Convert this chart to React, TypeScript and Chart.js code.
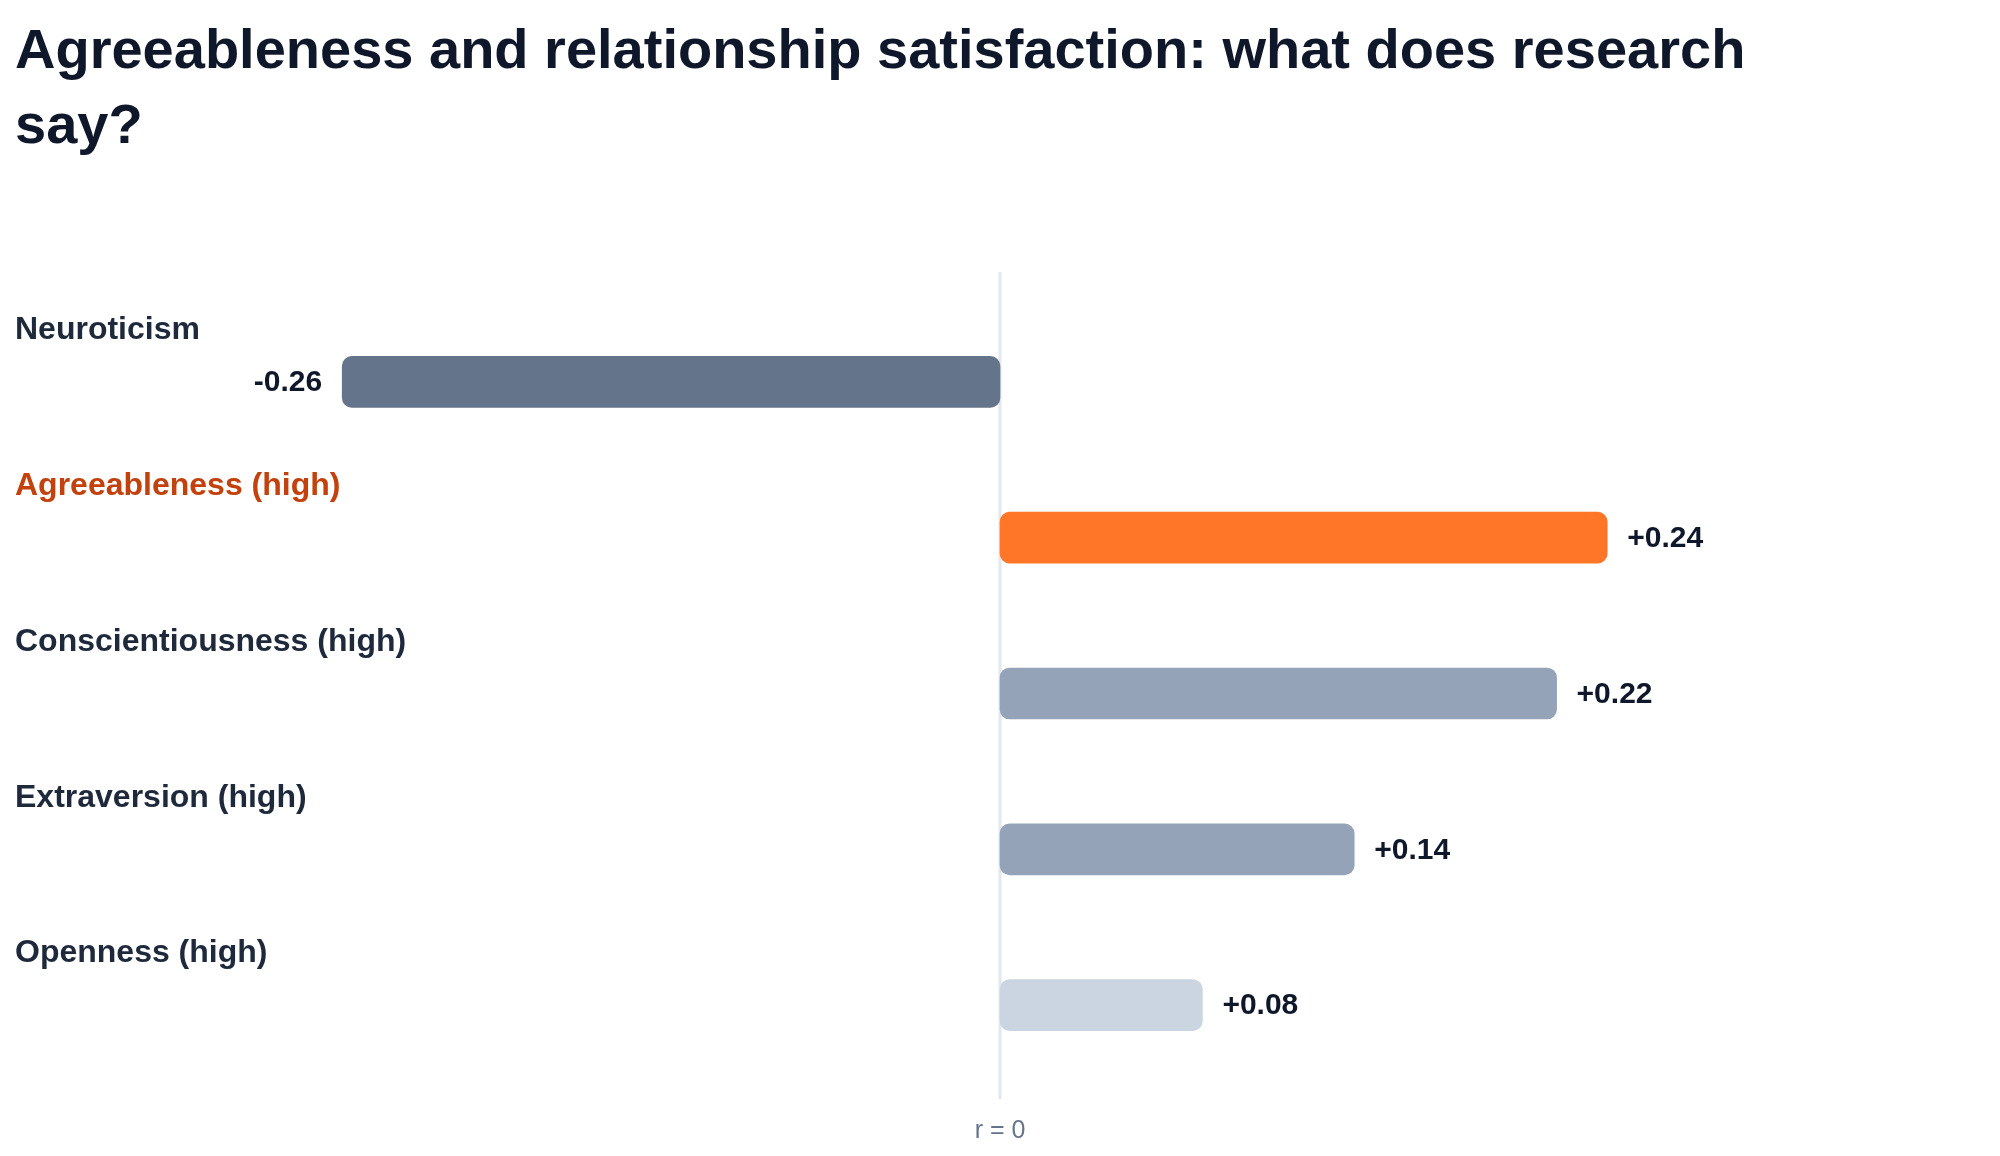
import React, { useEffect, useRef } from "react";
import { Chart, registerables } from "chart.js";

Chart.register(...registerables);

const TITLE = "Agreeableness and relationship satisfaction: what does research say?";
const categories = [
  "Neuroticism",
  "Agreeableness (high)",
  "Conscientiousness (high)",
  "Extraversion (high)",
  "Openness (high)",
];
const values = [-0.26, 0.24, 0.22, 0.14, 0.08];
const barColors = ["#64748b", "#ff7629", "#94a3b8", "#94a3b8", "#cbd5e1"];
const labelColors = ["#1e293b", "#c2410c", "#1e293b", "#1e293b", "#1e293b"];
const zeroLabel = "r = 0";

const FONT = '"Liberation Sans", Arial, Helvetica, sans-serif';
const W = 1984;
const H = 1140;

const annotatePlugin = {
  id: "annotate",
  beforeDatasetsDraw(chart: any) {
    const ctx = chart.ctx;
    const x0 = chart.scales.x.getPixelForValue(0);
    ctx.save();
    ctx.strokeStyle = "#e2e8f0";
    ctx.lineWidth = 3;
    ctx.beginPath();
    ctx.moveTo(x0, 264);
    ctx.lineTo(x0, 1091);
    ctx.stroke();
    ctx.fillStyle = "#64748b";
    ctx.font = `25px ${FONT}`;
    ctx.textAlign = "center";
    ctx.textBaseline = "alphabetic";
    ctx.fillText(zeroLabel, x0, 1130);
    ctx.restore();
  },
  afterDatasetsDraw(chart: any) {
    const ctx = chart.ctx;
    const meta = chart.getDatasetMeta(0);
    const yScale = chart.scales.y;
    ctx.save();
    categories.forEach((cat, i) => {
      const yc = yScale.getPixelForValue(i);
      ctx.font = `bold 32px ${FONT}`;
      ctx.fillStyle = labelColors[i];
      ctx.textAlign = "left";
      ctx.textBaseline = "middle";
      ctx.fillText(cat, 7, yc - 51.5);
      const bar = meta.data[i];
      const v = values[i];
      const txt = (v > 0 ? "+" : "") + v.toFixed(2);
      ctx.font = `bold 30px ${FONT}`;
      ctx.fillStyle = "#0f172a";
      if (v >= 0) {
        ctx.textAlign = "left";
        ctx.fillText(txt, bar.x + 20, yc + 1);
      } else {
        ctx.textAlign = "right";
        ctx.fillText(txt, bar.x - 20, yc + 1);
      }
    });
    ctx.restore();
  },
};

export default function App() {
  const ref = useRef<HTMLCanvasElement>(null);
  useEffect(() => {
    if (!ref.current) return;
    const chart = new Chart(ref.current, {
      type: "bar",
      data: {
        labels: categories,
        datasets: [
          {
            data: values,
            backgroundColor: barColors,
            borderRadius: 10,
            borderSkipped: false,
            barThickness: 51,
          },
        ],
      },
      options: {
        indexAxis: "y",
        responsive: false,
        animation: false,
        devicePixelRatio: 1,
        layout: { padding: { left: 106.5, right: 106.5, top: 296, bottom: 65 } },
        scales: {
          x: { min: -0.35, max: 0.35, display: false },
          y: { display: false, offset: true },
        },
        plugins: {
          legend: { display: false },
          tooltip: { enabled: false },
          title: { display: false },
        },
      },
      plugins: [annotatePlugin],
    } as any);
    return () => chart.destroy();
  }, []);

  return (
    <div style={{ position: "relative", width: W, height: H, fontFamily: FONT }}>
      <canvas
        ref={ref}
        width={W}
        height={H}
        style={{ position: "absolute", left: 0, top: 0, width: W, height: H }}
      />
      <div
        style={{
          position: "absolute",
          left: 7,
          top: 3,
          width: 1800,
          fontSize: 56,
          lineHeight: "75px",
          fontWeight: 700,
          color: "#0f172a",
          fontFamily: FONT,
        }}
      >
        {TITLE}
      </div>
    </div>
  );
}
